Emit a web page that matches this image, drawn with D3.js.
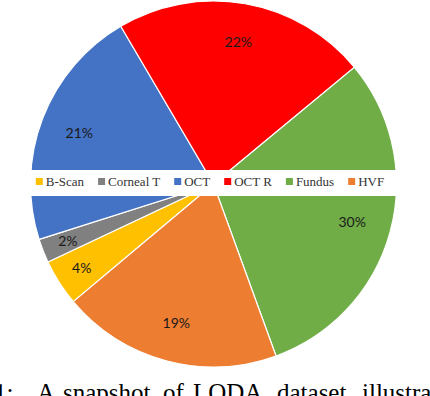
<!DOCTYPE html>
<html>
<head>
<meta charset="utf-8">
<script src="https://cdn.jsdelivr.net/npm/d3@7"></script>
<style>
  html, body { margin: 0; padding: 0; background: #fff; }
  svg { display: block; }
</style>
</head>
<body>
<div id="chart"></div>
<script>
// modality shares (percent)
const categories = ['B-Scan', 'Corneal T', 'OCT', 'OCT R', 'Fundus', 'HVF'];
const values = [4.1, 2.1, 21.4, 22.4, 30.4, 19.4];
const colors = ['#FFC000', '#808080', '#4472C4', '#FF0000', '#70AD47', '#ED7D31'];
const captionWords = ['1:', 'A', 'snapshot', 'of', 'LODA', 'dataset', 'illustrat'];

const width = 430;
const height = 396;
const cx = 213.5;
const cy = 184;
const radius = 183;

const svg = d3.select('#chart').append('svg')
  .attr('width', width)
  .attr('height', height);

const total = d3.sum(values);
const start = 230 * Math.PI / 180;

const pie = d3.pie()
  .sort(null)
  .value(d => d.value)
  .startAngle(start)
  .endAngle(start + 2 * Math.PI);

const data = categories.map((c, i) => ({ name: c, value: values[i], color: colors[i] }));
const arcs = pie(data);

const arc = d3.arc().innerRadius(0).outerRadius(radius);

const g = svg.append('g').attr('transform', `translate(${cx},${cy})`);

g.selectAll('.slice')
  .data(arcs)
  .enter().append('path')
  .attr('class', 'slice')
  .attr('d', arc)
  .attr('fill', d => d.data.color)
  .attr('stroke', '#fff')
  .attr('stroke-width', 1.2);

// percent labels, small slices pushed further out like Excel does
g.selectAll('.pct')
  .data(arcs)
  .enter().append('text')
  .attr('class', 'pct')
  .attr('transform', d => {
    const pct = d.data.value / total * 100;
    const r = radius * (pct < 5 ? 0.855 : 0.785);
    const a = (d.startAngle + d.endAngle) / 2;
    return `translate(${Math.sin(a) * r},${-Math.cos(a) * r})`;
  })
  .attr('text-anchor', 'middle')
  .attr('dy', '0.35em')
  .attr('font-family', 'Lato, "Liberation Sans", sans-serif')
  .attr('font-size', 14)
  .attr('fill', '#1a1a1a')
  .text(d => `${Math.round(d.data.value / total * 100)}%`);

// legend band across the middle of the pie
svg.append('rect')
  .attr('x', cx - radius - 2)
  .attr('y', 170)
  .attr('width', radius * 2 + 4)
  .attr('height', 26)
  .attr('fill', '#fff');

const legend = svg.append('g').attr('class', 'legend');
const items = legend.selectAll('.item')
  .data(data)
  .enter().append('g')
  .attr('class', 'item');

items.append('rect')
  .attr('width', 7)
  .attr('height', 7)
  .attr('y', 178)
  .attr('fill', d => d.color);

items.append('text')
  .attr('x', 10)
  .attr('y', 186)
  .attr('font-family', '"Liberation Serif", "Times New Roman", serif')
  .attr('font-size', 13)
  .attr('fill', '#333')
  .text(d => d.name);

let offset = 0;
const offsets = [];
items.each(function() {
  offsets.push(offset);
  const w = d3.select(this).select('text').node().getComputedTextLength();
  offset += 10 + w + 14;
});
const legendWidth = offset - 14;
const legendX = cx - 3.5 - legendWidth / 2;
items.attr('transform', (d, i) => `translate(${legendX + offsets[i]},0)`);

// caption fragment cut off at the bottom of the crop
const captionX = [-6, 37, 63, 163, 193, 277, 362];
const caption = svg.append('text')
  .attr('y', 401)
  .attr('font-family', '"Liberation Serif", "Times New Roman", serif')
  .attr('font-size', 25)
  .attr('fill', '#000');

caption.selectAll('tspan')
  .data(captionWords)
  .enter().append('tspan')
  .attr('x', (d, i) => captionX[i])
  .text(d => d);
</script>
</body>
</html>
